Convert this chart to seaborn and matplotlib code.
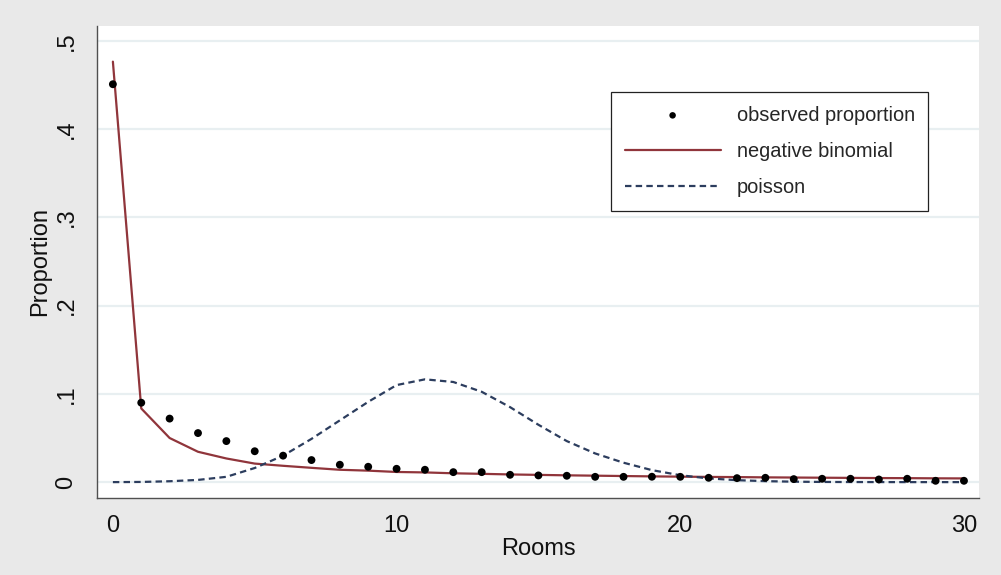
"""Observed room counts vs negative binomial and poisson fits."""

import matplotlib
matplotlib.use("Agg")
import matplotlib.pyplot as plt
import matplotlib.ticker as mticker
import numpy as np
import pandas as pd
import seaborn as sns

rooms = list(range(31))
observed = [
    0.451, 0.090, 0.072, 0.0556, 0.0465, 0.035, 0.030, 0.025, 0.0197, 0.0174,
    0.0151, 0.014, 0.0113, 0.0113, 0.0083, 0.0076, 0.0072, 0.0060, 0.0060, 0.0061,
    0.0060, 0.0049, 0.0045, 0.0049, 0.0034, 0.0038, 0.0038, 0.0030, 0.0038, 0.0015,
    0.0015,
]
negbin = [
    0.4766, 0.0835, 0.050, 0.0344, 0.0268, 0.021, 0.0185, 0.0162, 0.0140, 0.0130,
    0.0115, 0.0110, 0.0100, 0.0094, 0.0087, 0.0082, 0.0077, 0.0073, 0.0069, 0.0065,
    0.0062, 0.0059, 0.0057, 0.0054, 0.0052, 0.0050, 0.0048, 0.0046, 0.0045, 0.0043,
    0.0042,
]
poisson = [
    0.0, 0.0002, 0.001, 0.0025, 0.0060, 0.016, 0.030, 0.049, 0.070, 0.091,
    0.110, 0.1165, 0.1135, 0.1024, 0.085, 0.065, 0.0465, 0.0325, 0.022, 0.0136,
    0.0078, 0.0042, 0.0022, 0.0011, 0.0005, 0.0002, 0.0001, 0.00005, 0.0, 0.0,
    0.0,
]
y_ticks = [0, 0.1, 0.2, 0.3, 0.4, 0.5]
y_tick_labels = ["0", ".1", ".2", ".3", ".4", ".5"]
x_ticks = [0, 10, 20, 30]

df = pd.DataFrame(
    {"rooms": rooms, "observed": observed, "negbin": negbin, "poisson": poisson}
)

sns.set_theme(style="white")
plt.rcParams["font.family"] = ["Liberation Sans", "DejaVu Sans"]

BG = "#e9e9e9"
GRID = "#e8eff1"
AXIS = "#505050"
MAROON = "#90353b"
NAVY = "#2c3d5e"
DASH = [2.9, 1.9]

fig = plt.figure(figsize=(10.01, 5.75), dpi=100, facecolor=BG)
ax = fig.add_axes([97 / 1001, 77 / 575, 882 / 1001, 472 / 575])
ax.set_facecolor("white")

sns.scatterplot(
    data=df, x="rooms", y="observed", ax=ax, color="black", s=32,
    edgecolor="none", label="observed proportion", zorder=4,
)
sns.lineplot(
    data=df, x="rooms", y="negbin", ax=ax, color=MAROON, linewidth=1.6,
    label="negative binomial", zorder=3,
)
sns.lineplot(
    data=df, x="rooms", y="poisson", ax=ax, color=NAVY, linewidth=1.6,
    dashes=False, label="poisson", zorder=3,
)
ax.lines[-1].set_dashes(DASH)

ax.set_xlim(-0.56, 30.53)
ax.set_ylim(-0.018, 0.517)
ax.set_yticks(y_ticks)
ax.yaxis.set_major_formatter(mticker.FixedFormatter(y_tick_labels))
ax.set_xticks(x_ticks)
for label in ax.get_yticklabels():
    label.set_rotation(90)
    label.set_va("center")

ax.grid(axis="y", color=GRID, linewidth=1.6)
ax.set_axisbelow(True)
for side in ("top", "right"):
    ax.spines[side].set_visible(False)
for side in ("left", "bottom"):
    ax.spines[side].set_color(AXIS)
    ax.spines[side].set_linewidth(1.0)
ax.tick_params(
    axis="both", which="major", direction="out", length=7, width=1.0,
    color=AXIS, labelsize=17, labelcolor="#111111", pad=5,
)
ax.tick_params(axis="y", pad=7)

ax.set_xlabel("Rooms", fontsize=17, color="#111111", labelpad=1)
ax.set_ylabel("Proportion", fontsize=17, color="#111111", labelpad=3)

legend = ax.legend(
    loc="upper left",
    bbox_to_anchor=(611 / 1001, 1 - 92 / 575),
    bbox_transform=fig.transFigure,
    borderaxespad=0,
    fontsize=14.4,
    handlelength=4.8,
    handletextpad=0.8,
    labelspacing=0.86,
    borderpad=0.68,
    fancybox=False,
    frameon=True,
    scatterpoints=1,
)
legend.get_frame().set_edgecolor("#222222")
legend.get_frame().set_linewidth(0.9)
legend.get_frame().set_facecolor("white")
legend.get_frame().set_alpha(1)
for handle in legend.legend_handles:
    if hasattr(handle, "set_sizes"):
        handle.set_sizes([22])
legend.legend_handles[2].set_dashes(DASH)

fig.savefig("out.png", dpi=100, facecolor=BG)
plt.close(fig)
